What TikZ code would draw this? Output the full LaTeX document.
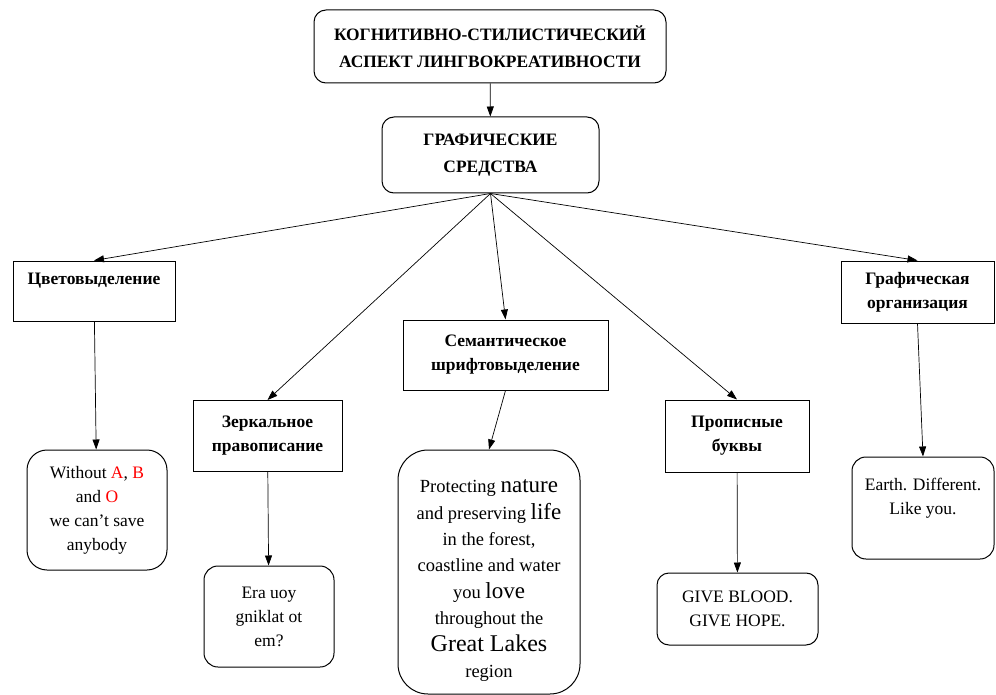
\documentclass[tikz,border=0pt]{standalone}
\usepackage{fontspec}
\setmainfont{Liberation Serif}
\usetikzlibrary{arrows.meta}

\begin{document}
\begin{tikzpicture}[
    x=1pt, y=-1pt,
    every node/.style={font=\fontsize{17.5}{24}\selectfont},
    head/.style={
        rectangle,
        draw,
        line width=1pt,
        inner sep=0pt,
        align=center,
        font=\fontsize{17.5}{24}\selectfont\bfseries
    },
    sample/.style={
        rectangle,
        draw,
        rounded corners=14pt,
        line width=1pt,
        inner sep=0pt,
        align=center
    },
    arrow/.style={-{Triangle[length=10pt,width=7pt]},line width=0.7pt}
]
\useasboundingbox (0,0) rectangle (996,695);

\node[head, rounded corners=12pt, minimum width=352pt, minimum height=73pt,
      font=\fontsize{17.4}{27}\selectfont\bfseries] (title) at (490,46.5)
      {КОГНИТИВНО-СТИЛИСТИЧЕСКИЙ\\АСПЕКТ ЛИНГВОКРЕАТИВНОСТИ};
\node[head, rounded corners=12pt, minimum width=217pt, minimum height=76pt,
      font=\fontsize{17.4}{27}\selectfont\bfseries] (grs) at (490.5,155)
      {ГРАФИЧЕСКИЕ\\СРЕДСТВА};

\node[head, minimum width=162pt, minimum height=60pt] (cvet) at (94,291) {Цветовыделение\\~};
\node[head, minimum width=149pt, minimum height=71pt] (zerk) at (267.5,436) {Зеркальное\\правописание};
\node[head, minimum width=205pt, minimum height=70pt] (sem) at (505.5,355) {Семантическое\\шрифтовыделение};
\node[head, minimum width=144pt, minimum height=72pt] (prop) at (737,436) {Прописные\\буквы};
\node[head, minimum width=153pt, minimum height=62pt] (graf) at (917.5,292) {Графическая\\организация};

\node[sample, rounded corners=20pt, minimum width=140pt, minimum height=120pt] (without) at (97,510)
      {Without \textcolor{red}{A}, \textcolor{red}{B}\\and \textcolor{red}{O}\\we can’t save\\anybody};
\node[sample, minimum width=130pt, minimum height=101pt] (era) at (269,616.5)
      {Era uoy\\gniklat ot\\em?};
\node[sample, rounded corners=30pt, minimum width=182pt, minimum height=244pt,
      font=\fontsize{18.5}{26.4}\selectfont] (prot) at (489,572)
      {\rule{0pt}{30pt}Protecting {\fontsize{23}{26.4}\selectfont nature}\\
       and preserving {\fontsize{23}{26.4}\selectfont life}\\
       in the forest,\\coastline and water\\
       you {\fontsize{23}{26.4}\selectfont love}\\throughout the\\
       {\fontsize{24}{28}\selectfont Great Lakes}\\region};
\node[sample, rounded corners=12pt, minimum width=161pt, minimum height=72pt] (give) at (737.5,609)
      {GIVE BLOOD.\\GIVE HOPE.};
\node[sample, minimum width=142pt, minimum height=102pt] (earth) at (923,508)
      {Earth. Different.\\Like you.\\~};

\draw[arrow] (title) -- (grs);

\draw[arrow] (grs.south) -- (cvet.north);
\draw[arrow] (grs.south) -- (zerk.north);
\draw[arrow] (grs.south) -- (sem.north);
\draw[arrow] (grs.south) -- (prop.north);
\draw[arrow] (grs.south) -- (graf.north);

\draw[arrow] (cvet) -- (without);
\draw[arrow] (zerk) -- (era);
\draw[arrow] (sem.south) -- (prot.north);
\draw[arrow] (prop) -- (give);
\draw[arrow] (graf.south) -- (earth.north);

\end{tikzpicture}
\end{document}
